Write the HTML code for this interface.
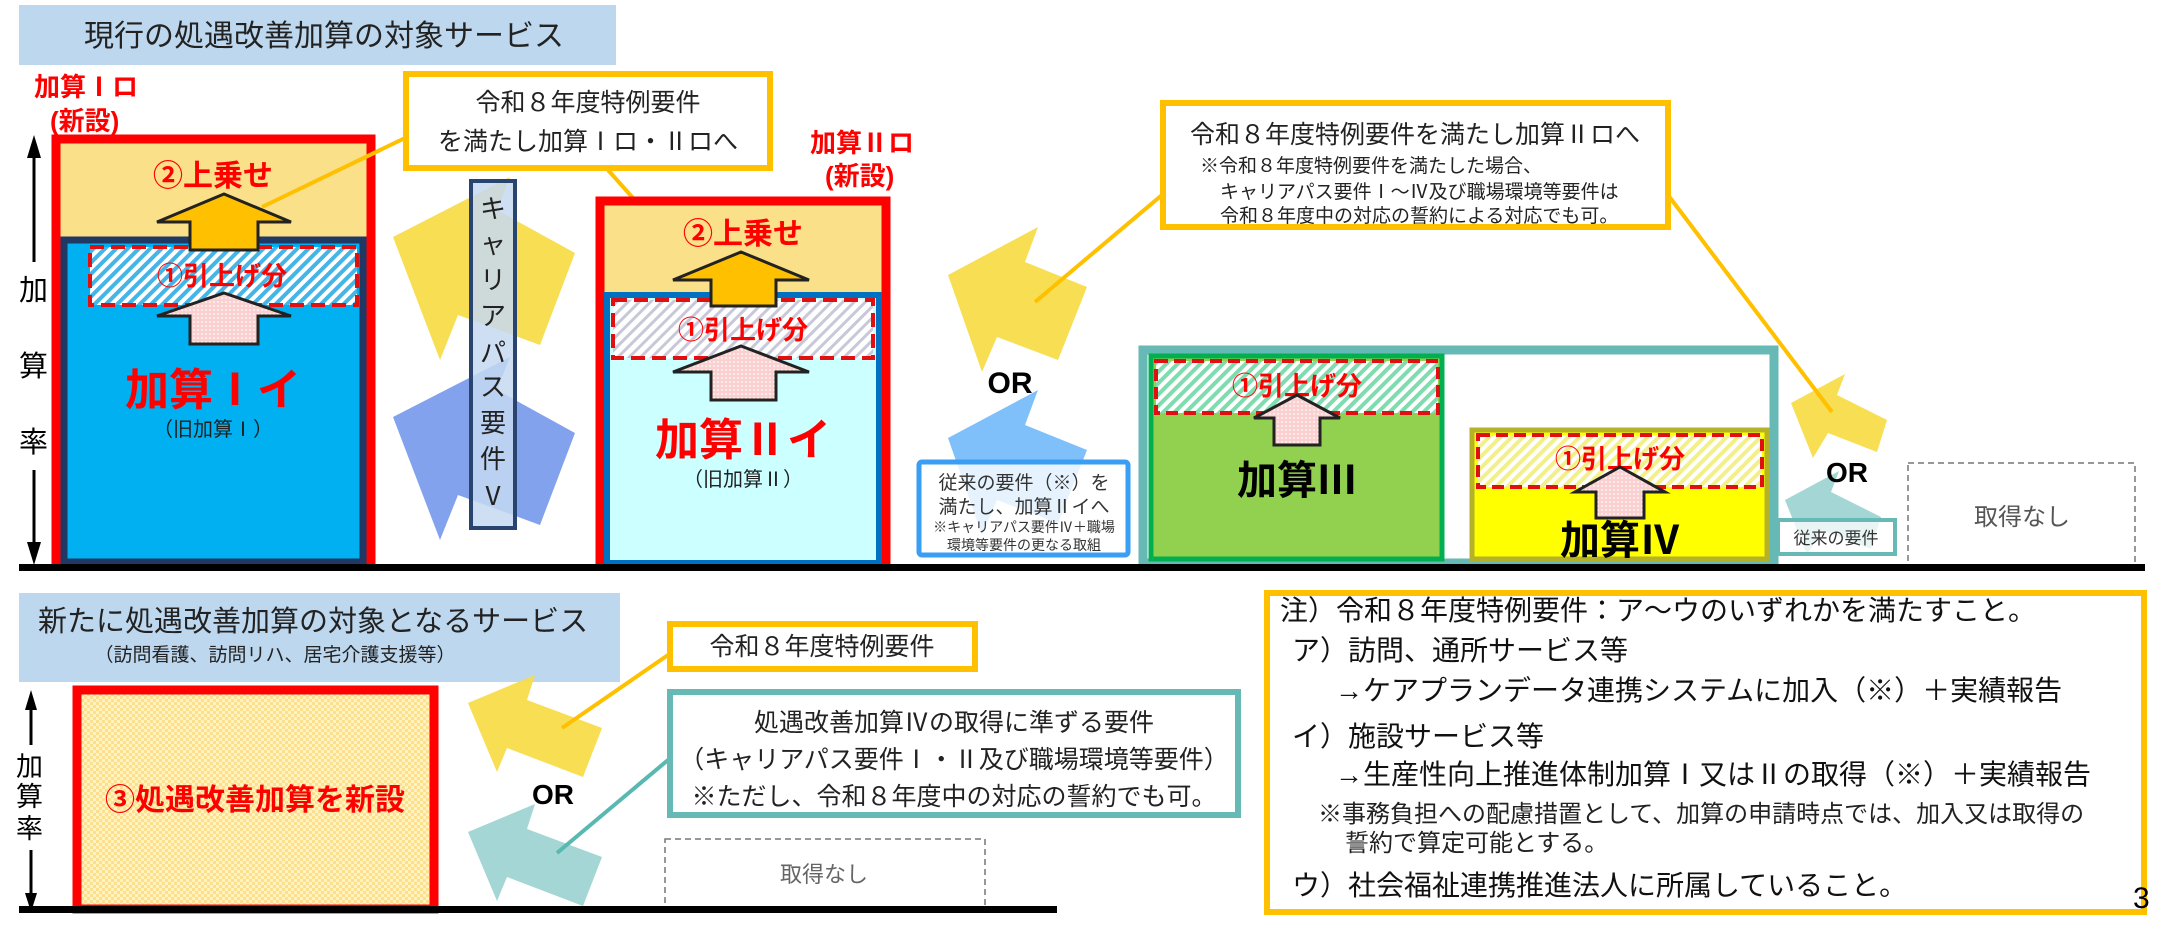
<!DOCTYPE html>
<html><head><meta charset="utf-8"><style>
html,body{margin:0;padding:0;background:#fff;}
svg{display:block;}
text{font-family:"Liberation Sans","Noto Sans CJK JP",sans-serif;}
</style></head><body>
<svg width="2164" height="925" viewBox="0 0 2164 925" xmlns="http://www.w3.org/2000/svg">
<defs>
<pattern id="hb" width="8" height="8" patternUnits="userSpaceOnUse" patternTransform="rotate(45)"><rect width="8" height="8" fill="#fff"/><rect width="4" height="8" fill="#45b4e6"/></pattern>
<pattern id="hg" width="8" height="8" patternUnits="userSpaceOnUse" patternTransform="rotate(45)"><rect width="8" height="8" fill="#fff"/><rect width="3" height="8" fill="#c8c8d8"/></pattern>
<pattern id="hgr" width="8" height="8" patternUnits="userSpaceOnUse" patternTransform="rotate(45)"><rect width="8" height="8" fill="#fff"/><rect width="4" height="8" fill="#7fdcae"/></pattern>
<pattern id="hy" width="8" height="8" patternUnits="userSpaceOnUse" patternTransform="rotate(45)"><rect width="8" height="8" fill="#fff"/><rect width="4" height="8" fill="#f3f08a"/></pattern>
<pattern id="dot" width="4" height="4" patternUnits="userSpaceOnUse"><rect width="4" height="4" fill="#fbd0d0"/><circle cx="2" cy="2" r="0.9" fill="#fff"/></pattern>
<pattern id="chk" width="6" height="6" patternUnits="userSpaceOnUse"><rect width="6" height="6" fill="#fff3c4"/><rect width="3" height="3" fill="#fde08e"/><rect x="3" y="3" width="3" height="3" fill="#fde08e"/></pattern>
</defs>

<!-- title -->
<rect x="19" y="5" width="597" height="60" fill="#bdd7ee"/>
<text x="84" y="46" font-size="30" fill="#222">現行の処遇改善加算の対象サービス</text>

<!-- background translucent arrows -->
<polygon points="393,237 510,177 497,210 575,253 540,345 458,315 440,360" fill="#f7dc4a" opacity="0.95"/>
<polygon points="393,417 510,357 497,390 575,433 540,525 458,495 440,540" fill="#7b9ded" opacity="0.95"/>
<polygon points="948,275 1038,227 1025,262 1087,287 1058,360 997,337 982,372" fill="#f7dc4a" opacity="0.95"/>
<polygon points="948,438 1038,390 1025,425 1087,450 1058,523 997,500 982,535" fill="#79bdfa" opacity="0.95"/>
<polygon points="1791,403 1845,374 1837,395 1887,420 1877,452 1828,433 1813,458" fill="#f7dc4a" opacity="0.95"/>
<polygon points="1785,500 1839,471 1831,492 1881,517 1871,549 1822,530 1807,555" fill="#a3d6d4"/>

<!-- Box I -->
<text x="34" y="96" font-size="26" font-weight="bold" fill="#f00">加算Ⅰロ</text>
<text x="50" y="130" font-size="26" font-weight="bold" fill="#f00">(新設)</text>
<rect x="56" y="139" width="315" height="427" fill="#fbe08a" stroke="#f00" stroke-width="9"/>
<rect x="64" y="240" width="299" height="322" fill="#00b0f0" stroke="#1f3864" stroke-width="7"/>
<rect x="90" y="247" width="267" height="58" fill="url(#hb)" stroke="#e01010" stroke-width="4" stroke-dasharray="14,7"/>
<text x="213" y="186" font-size="30" font-weight="bold" fill="#f00" text-anchor="middle">②上乗せ</text>
<polygon points="224,194 291,222 258,222 258,250 190,250 190,222 157,222" fill="#ffc000" stroke="#222" stroke-width="3"/>
<text x="222" y="285" font-size="26" font-weight="bold" fill="#f00" text-anchor="middle">①引上げ分</text>
<polygon points="224,293 291,316 258,316 258,344 190,344 190,316 157,316" fill="url(#dot)" stroke="#222" stroke-width="3"/>
<text x="213" y="405" font-size="44" font-weight="bold" fill="#f00" text-anchor="middle">加算Ⅰイ</text>
<text x="213" y="436" font-size="20" fill="#222" text-anchor="middle">（旧加算Ⅰ）</text>

<!-- axis -->
<line x1="34" y1="145" x2="34" y2="262" stroke="#000" stroke-width="3"/>
<polygon points="34,135 27,158 41,158" fill="#000"/>
<line x1="34" y1="470" x2="34" y2="555" stroke="#000" stroke-width="3"/>
<polygon points="34,565 27,542 41,542" fill="#000"/>
<text x="19" y="300" font-size="29" fill="#000">加</text>
<text x="19" y="376" font-size="29" fill="#000">算</text>
<text x="19" y="452" font-size="29" fill="#000">率</text>

<!-- career path -->
<rect x="471" y="181" width="44" height="347" fill="#c6d9f1" fill-opacity="0.85" stroke="#2a4470" stroke-width="4"/>
<g font-size="26" fill="#222" text-anchor="middle">
<text x="493" y="218">キ</text><text x="493" y="253">ャ</text><text x="493" y="289">リ</text><text x="493" y="325">ア</text><text x="493" y="362">パ</text><text x="493" y="396">ス</text><text x="493" y="432">要</text><text x="493" y="468">件</text><text x="493" y="505">Ⅴ</text>
</g>

<!-- callout1 -->
<line x1="405" y1="138" x2="262" y2="207" stroke="#ffc000" stroke-width="4"/>
<line x1="608" y1="170" x2="690" y2="262" stroke="#ffc000" stroke-width="4"/>
<rect x="406" y="74" width="364" height="94" fill="#fff" stroke="#ffc000" stroke-width="6"/>
<text x="588" y="111" font-size="25" fill="#222" text-anchor="middle">令和８年度特例要件</text>
<text x="588" y="150" font-size="25" fill="#222" text-anchor="middle">を満たし加算Ⅰロ・Ⅱロへ</text>

<!-- Box II -->
<text x="810" y="152" font-size="26" font-weight="bold" fill="#f00">加算Ⅱロ</text>
<text x="825" y="185" font-size="26" font-weight="bold" fill="#f00">(新設)</text>
<rect x="600" y="201" width="286" height="365" fill="#fbe08a" stroke="#f00" stroke-width="9"/>
<rect x="607" y="295" width="272" height="268" fill="#ccffff" stroke="#0070c0" stroke-width="6"/>
<rect x="613" y="300" width="260" height="58" fill="url(#hg)" stroke="#e01010" stroke-width="4" stroke-dasharray="14,7"/>
<text x="743" y="244" font-size="30" font-weight="bold" fill="#f00" text-anchor="middle">②上乗せ</text>
<polygon points="741,252 809,280 776,280 776,306 711,306 711,280 673,280" fill="#ffc000" stroke="#222" stroke-width="3"/>
<text x="743" y="339" font-size="26" font-weight="bold" fill="#f00" text-anchor="middle">①引上げ分</text>
<polygon points="741,346 809,372 776,372 776,400 711,400 711,372 673,372" fill="url(#dot)" stroke="#222" stroke-width="3"/>
<text x="743" y="455" font-size="44" font-weight="bold" fill="#f00" text-anchor="middle">加算Ⅱイ</text>
<text x="743" y="486" font-size="20" fill="#222" text-anchor="middle">（旧加算Ⅱ）</text>

<text x="1010" y="393" font-size="30" font-weight="bold" fill="#000" text-anchor="middle">OR</text>

<!-- blue box -->
<rect x="919" y="462" width="209" height="93" rx="3" fill="#fff" fill-opacity="0.8" stroke="#3a9ef5" stroke-width="5"/>
<text x="1024" y="489" font-size="19" fill="#333" text-anchor="middle">従来の要件（※）を</text>
<text x="1024" y="513" font-size="19" fill="#333" text-anchor="middle">満たし、加算Ⅱイへ</text>
<text x="1024" y="532" font-size="14" fill="#333" text-anchor="middle">※キャリアパス要件Ⅳ＋職場</text>
<text x="1024" y="550" font-size="14" fill="#333" text-anchor="middle">環境等要件の更なる取組</text>

<!-- callout2 -->
<line x1="1162" y1="195" x2="1035" y2="302" stroke="#ffc000" stroke-width="4"/>
<line x1="1668" y1="195" x2="1832" y2="412" stroke="#ffc000" stroke-width="4"/>
<rect x="1163" y="103" width="505" height="124" fill="#fff" stroke="#ffc000" stroke-width="6"/>
<text x="1190" y="143" font-size="25" fill="#222">令和８年度特例要件を満たし加算Ⅱロへ</text>
<text x="1200" y="172" font-size="19" fill="#222">※令和８年度特例要件を満たした場合、</text>
<text x="1220" y="198" font-size="19" fill="#222">キャリアパス要件Ⅰ～Ⅳ及び職場環境等要件は</text>
<text x="1220" y="222" font-size="19" fill="#222">令和８年度中の対応の誓約による対応でも可。</text>

<!-- 加算III / IV -->
<rect x="1143" y="350" width="631" height="213" fill="#fff" stroke="#66b9b5" stroke-width="9"/>
<rect x="1151" y="356" width="291" height="203" fill="#92d050" stroke="#00b050" stroke-width="5"/>
<rect x="1156" y="361" width="282" height="52" fill="url(#hgr)" stroke="#e01010" stroke-width="4" stroke-dasharray="12,6"/>
<text x="1297" y="395" font-size="26" font-weight="bold" fill="#f00" text-anchor="middle">①引上げ分</text>
<polygon points="1297,395 1340,418 1320,418 1320,445 1274,445 1274,418 1254,418" fill="url(#dot)" stroke="#222" stroke-width="3"/>
<text x="1297" y="494" font-size="40" font-weight="bold" fill="#000" text-anchor="middle">加算Ⅲ</text>
<rect x="1472" y="430" width="295" height="129" fill="#ffff00" stroke="#b5b22a" stroke-width="5"/>
<rect x="1478" y="435" width="284" height="52" fill="url(#hy)" stroke="#e01010" stroke-width="4" stroke-dasharray="12,6"/>
<text x="1620" y="468" font-size="26" font-weight="bold" fill="#f00" text-anchor="middle">①引上げ分</text>
<polygon points="1620,467 1665,492 1644,492 1644,518 1596,518 1596,492 1575,492" fill="url(#dot)" stroke="#222" stroke-width="3"/>
<text x="1620" y="554" font-size="40" font-weight="bold" fill="#000" text-anchor="middle">加算Ⅳ</text>

<text x="1847" y="482" font-size="28" font-weight="bold" fill="#000" text-anchor="middle">OR</text>
<rect x="1778" y="520" width="117" height="34" fill="#fff" fill-opacity="0.75" stroke="#66b9b5" stroke-width="4"/>
<text x="1836" y="544" font-size="17" fill="#333" text-anchor="middle">従来の要件</text>
<rect x="1908" y="463" width="227" height="102" fill="none" stroke="#777" stroke-width="1.5" stroke-dasharray="6,4"/>
<text x="2022" y="525" font-size="24" fill="#555" text-anchor="middle">取得なし</text>

<!-- baseline -->
<rect x="19" y="564" width="2126" height="7" fill="#000"/>

<!-- bottom -->
<rect x="19" y="593" width="601" height="89" fill="#bdd7ee"/>
<text x="38" y="631" font-size="29" fill="#222">新たに処遇改善加算の対象となるサービス</text>
<text x="275" y="661" font-size="19" fill="#222" text-anchor="middle">（訪問看護、訪問リハ、居宅介護支援等）</text>

<polygon points="468,703 535,675 527,700 602,728 583,777 507,748 497,772" fill="#f7dc4a" opacity="0.95"/>
<polygon points="468,832 535,804 527,829 602,857 583,906 507,877 497,901" fill="#a3d6d4"/>
<line x1="668" y1="655" x2="562" y2="728" stroke="#ffc000" stroke-width="4"/>
<line x1="668" y1="760" x2="557" y2="853" stroke="#5ab8b2" stroke-width="4"/>

<rect x="77" y="690" width="357" height="219" fill="url(#chk)" stroke="#f00" stroke-width="9"/>
<text x="255" y="810" font-size="30" font-weight="bold" fill="#f00" text-anchor="middle">③処遇改善加算を新設</text>

<line x1="31" y1="698" x2="31" y2="745" stroke="#000" stroke-width="3"/>
<polygon points="31,690 25,710 37,710" fill="#000"/>
<line x1="31" y1="850" x2="31" y2="905" stroke="#000" stroke-width="3"/>
<polygon points="31,912 25,893 37,893" fill="#000"/>
<text x="16" y="776" font-size="27" fill="#000">加</text>
<text x="16" y="806" font-size="27" fill="#000">算</text>
<text x="16" y="838" font-size="27" fill="#000">率</text>

<text x="553" y="804" font-size="28" font-weight="bold" fill="#000" text-anchor="middle">OR</text>

<rect x="670" y="624" width="305" height="45" fill="#fff" stroke="#ffc000" stroke-width="6"/>
<text x="822" y="655" font-size="25" fill="#222" text-anchor="middle">令和８年度特例要件</text>
<rect x="670" y="692" width="568" height="123" fill="#fff" stroke="#66b9b5" stroke-width="6"/>
<text x="954" y="731" font-size="25" fill="#222" text-anchor="middle">処遇改善加算Ⅳの取得に準ずる要件</text>
<text x="954" y="768" font-size="25" fill="#222" text-anchor="middle">（キャリアパス要件Ⅰ・Ⅱ及び職場環境等要件）</text>
<text x="954" y="805" font-size="25" fill="#222" text-anchor="middle">※ただし、令和８年度中の対応の誓約でも可。</text>
<rect x="665" y="839" width="320" height="72" fill="none" stroke="#777" stroke-width="1.5" stroke-dasharray="6,4"/>
<text x="824" y="882" font-size="22" fill="#666" text-anchor="middle">取得なし</text>
<rect x="19" y="906" width="1038" height="7" fill="#000"/>

<!-- note box -->
<rect x="1267" y="593" width="877" height="319" fill="#fff" stroke="#ffc000" stroke-width="6"/>
<g font-size="28" fill="#111">
<text x="1280" y="620">注）令和８年度特例要件：ア～ウのいずれかを満たすこと。</text>
<text x="1292" y="660">ア）訪問、通所サービス等</text>
<text x="1335" y="700">→ケアプランデータ連携システムに加入（※）＋実績報告</text>
<text x="1292" y="746">イ）施設サービス等</text>
<text x="1335" y="784">→生産性向上推進体制加算Ⅰ又はⅡの取得（※）＋実績報告</text>
<text x="1292" y="895">ウ）社会福祉連携推進法人に所属していること。</text>
</g>
<text x="1318" y="822" font-size="24" fill="#222">※事務負担への配慮措置として、加算の申請時点では、加入又は取得の</text>
<text x="1345" y="851" font-size="24" fill="#222">誓約で算定可能とする。</text>
<text x="2133" y="908" font-size="30" fill="#000">3</text>
</svg>
</body></html>
